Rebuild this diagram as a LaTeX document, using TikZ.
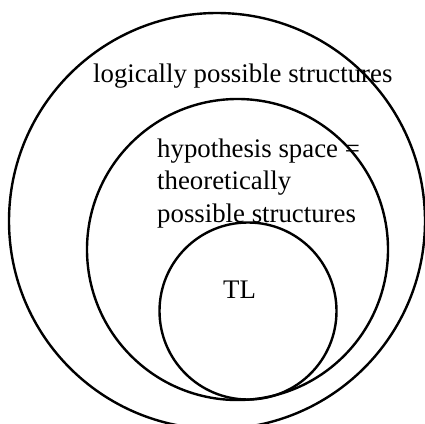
\documentclass[tikz,border=0pt]{standalone}
\usepackage{fontspec}
\setmainfont{Liberation Serif}
\begin{document}
\begin{tikzpicture}[x=1pt, y=-1pt, line width=2.4pt]
  \tikzset{ring/.style={draw, circle, inner sep=0pt},
           label/.style={inner sep=0pt, font=\fontsize{26.8}{32.5}\selectfont}}
  \useasboundingbox (0,0) rectangle (425,423);
  % nested circles
  \node[ring, minimum size=416pt] (logical) at (217,221) {};
  \node[ring, minimum size=301pt] (hypo) at (237.5,249.5) {};
  \node[ring, minimum size=177pt] (tl) at (248,311) {};
  % texts
  \node[label, anchor=base west] (logtext) at (92,82) {logically possible structures};
  \node[label, anchor=base west, align=left] (hypotext) at (156,222)
    {hypothesis space =\\theoretically\\possible structures};
  \node[label, anchor=base west] (tltext) at (222,298) {TL};
\end{tikzpicture}
\end{document}
